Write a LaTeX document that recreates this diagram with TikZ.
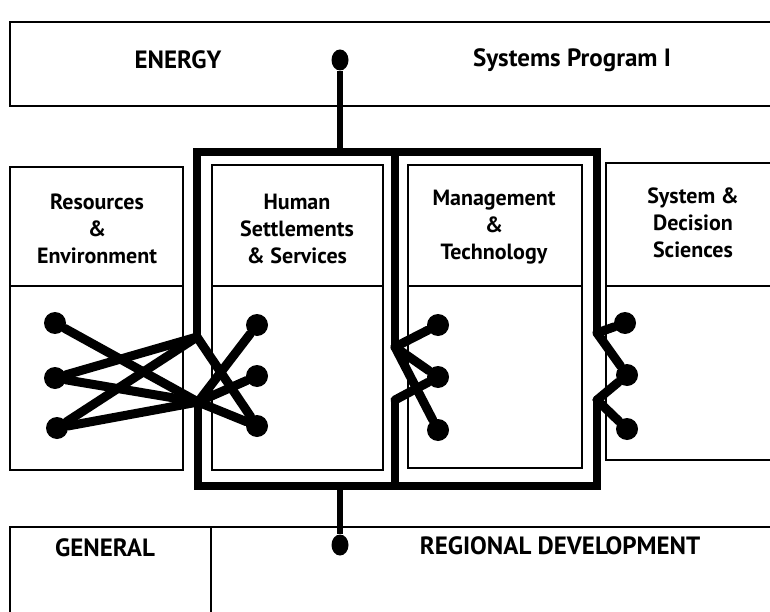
\documentclass[tikz,border=0pt]{standalone}
\usepackage{fontspec}
\setmainfont{PT Sans}
\usepackage{tikz}
\usetikzlibrary{shapes.geometric}

\tikzset{
  dot/.style={circle,fill,inner sep=0pt,minimum size=22pt},
  link/.style={line width=9pt,line cap=round,line join=round},
  frame/.style={line width=8pt},
  stem/.style={line width=6.5pt},
  thin/.style={line width=1.5pt},
  band/.style={font=\bfseries\fontsize{25}{29}\selectfont},
  heading/.style={align=center,font=\bfseries\fontsize{22}{27}\selectfont}
}

\begin{document}
\begin{tikzpicture}
  [x=1pt,y=-1pt]
  \useasboundingbox (0,0) rectangle (770,612);

  % top and bottom bands
  \draw[thin] (770,22) -- (10,22) -- (10,106) -- (770,106);
  \draw[thin] (10,612) -- (10,527) -- (770,527);
  \draw[thin] (211,527) -- (211,612);
  \node[band] (energy) at (178,60) {ENERGY};
  \node[band] (prog) at (572,60) {Systems Program I};
  \node[band] (gen) at (105,548) {GENERAL};
  \node[band] (reg) at (560,546) {REGIONAL DEVELOPMENT};

  % the four divisions
  \draw[thin] (10,167) rectangle (183,470) (10,286) -- (183,286);
  \draw[thin] (212,165) rectangle (383,470) (212,286) -- (383,286);
  \draw[thin] (408,165) rectangle (582,468) (408,286) -- (582,286);
  \draw[thin] (770,163) -- (606,163) -- (606,460) -- (770,460) (606,286) -- (770,286);
  \node[heading] (res) at (97,229) {Resources\\\&\\Environment};
  \node[heading] (hum) at (297,229) {Human\\Settlements\\\& Services};
  \node[heading] (man) at (494,227) {Management\\\&\\Technology};
  \node[heading] (sys) at (693,223) {System \&\\Decision\\Sciences};

  % cut points of the heavy frame
  \coordinate (jl1) at (197,337);
  \coordinate (jl2) at (198,402);
  \coordinate (jm1) at (395,347);
  \coordinate (jm2) at (395,400);
  \coordinate (jr1) at (597,333);
  \coordinate (jr2) at (597,400);
  \coordinate (ftop) at (340,152);
  \coordinate (fbot) at (340,486);

  \draw[frame] (jl1) -- (197,152) -- (597,152) -- (jr1);
  \draw[frame] (jl2) -- (198,486) -- (597,486) -- (jr2);
  \draw[frame] (395,152) -- (jm1);
  \draw[frame] (395,486) -- (jm2);

  \node[dot,ellipse,minimum width=17pt,minimum height=21pt] (top) at (340,60) {};
  \node[dot,ellipse,minimum width=17pt,minimum height=21pt] (bot) at (340,545) {};
  \draw[stem] (top) -- (ftop);
  \draw[stem] (fbot) -- (bot);

  \node[dot] (r1) at (55,323) {};
  \node[dot] (r2) at (55,378) {};
  \node[dot] (r3) at (57,428) {};
  \node[dot] (h1) at (257,325) {};
  \node[dot] (h2) at (257,376) {};
  \node[dot] (h3) at (257,426) {};
  \node[dot] (m1) at (438,325) {};
  \node[dot] (m2) at (438,377) {};
  \node[dot] (m3) at (438,430) {};
  \node[dot] (s1) at (625,323) {};
  \node[dot] (s2) at (627,375) {};
  \node[dot] (s3) at (627,429) {};

  \foreach \from/\to in {r2/jl1,r3/jl1,jl1/h3,r1/jl2,r2/jl2,r3/jl2,jl2/h1,jl2/h2,jl2/h3,
    jm1/m1,jm1/m2,jm1/m3,jm2/m2,jr1/s1,jr1/s2,jr2/s2,jr2/s3}
  \draw[link] (\from) -- (\to);

\end{tikzpicture}
\end{document}
